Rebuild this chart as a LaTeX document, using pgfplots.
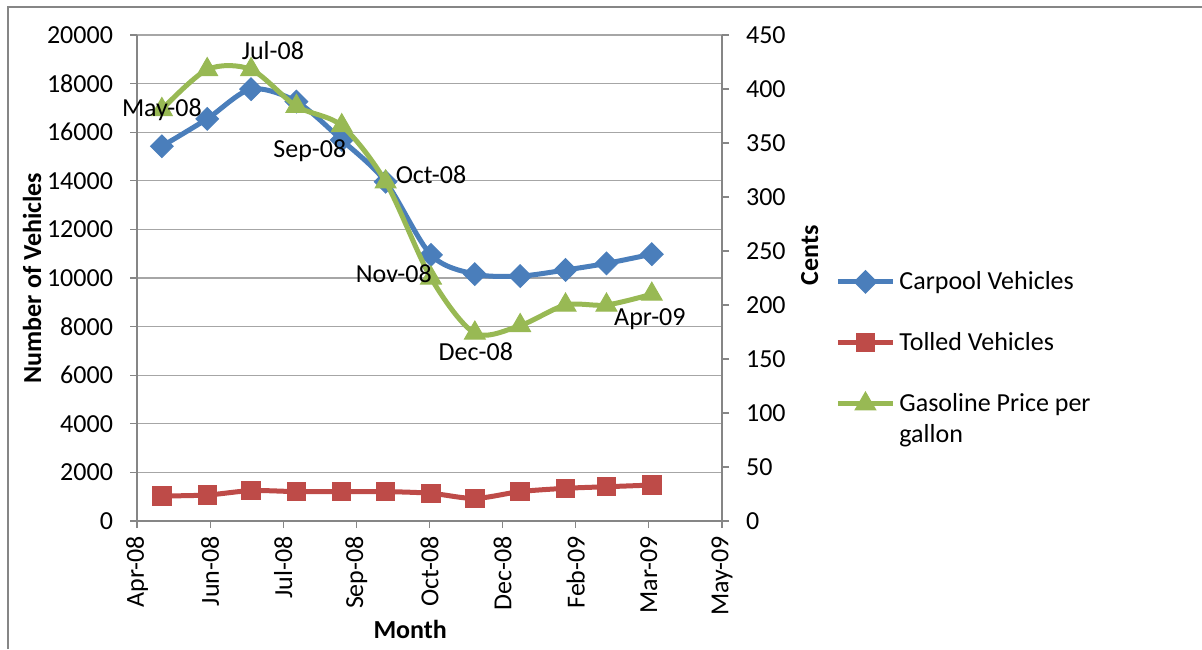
\documentclass[border=0pt]{standalone}
\usepackage{fontspec}
\setmainfont{Carlito}
\usepackage{pgfplots}
\usepackage{pgfplotstable}
\pgfplotsset{compat=1.18}
\definecolor{cblue}{HTML}{4A7EBB}
\definecolor{cred}{HTML}{BE4B48}
\definecolor{cgreen}{HTML}{98B954}
\definecolor{gridc}{HTML}{A6A6A6}
\definecolor{axc}{HTML}{868686}
\newcommand\fs{\fontsize{13}{15.6}\selectfont}

\pgfplotstableread{
d carpool tolled gas
0 15420 1030 381
31 16550 1070 418
61 17770 1250 418
92 17260 1210 384
123 15680 1210 366
153 13960 1210 314
184 10950 1140 225
214 10160 930 174
245 10080 1210 181
276 10330 1345 200
304 10600 1410 200
335 10980 1480 210
}\datatable

\pgfplotsset{
  common/.style={
    at={(68.5pt,64pt)}, anchor=south west,
    width=292.5pt, height=243pt, scale only axis,
    xmin=-17, xmax=383,
    tick align=outside, major tick length=3.5pt,
    tick style={axc, line width=0.6pt},
    axis line style={axc, line width=0.6pt, -},
    /pgf/number format/assume math mode=true,
    /pgf/number format/1000 sep={},
    scaled y ticks=false,
    ticklabel style={font=\fs, black},
    label style={font=\fs\bfseries, black},
    yticklabel shift=5pt,
  },
  legend image code/.code={\draw[mark repeat=2,mark phase=2] plot coordinates {(0pt,0pt)(13.75pt,0pt)(27.5pt,0pt)};},
}

\begin{document}
\begin{tikzpicture}
\path[use as bounding box] (0,0) rectangle (601pt,324.5pt);
\draw[axc, line width=0.8pt] (4pt,0pt) -- (4pt,321pt) -- (601pt,321pt);

\begin{axis}[common,
  ymin=0, ymax=20000, ytick={0,2000,...,20000},
  axis y line*=left, axis x line*=bottom,
  ymajorgrids, grid style={gridc, line width=0.6pt},
  xtick={-17,33,...,383},
  xticklabels={Apr-08,Jun-08,Jul-08,Sep-08,Oct-08,Dec-08,Feb-09,Mar-09,May-09},
  xticklabel style={rotate=90, anchor=east},
  xticklabel shift=0.5pt,
  xlabel={Month},
  xlabel style={at={(axis description cs:0.467,-0.224)}, anchor=center},
  ylabel={Number of Vehicles},
  ylabel style={at={(axis description cs:-0.1795,0.5)}, anchor=center},
]
\addplot[cblue, line width=2.5pt, smooth, mark=square*, mark size=4pt,
  mark options={rotate=45, solid, fill=cblue, line width=0.5pt}]
  table[x=d, y=carpool]{\datatable};
\addplot[cred, line width=2.5pt, smooth, mark=square*, mark size=4.6pt,
  mark options={solid, fill=cred, line width=0.5pt}]
  table[x=d, y=tolled]{\datatable};
\end{axis}

\begin{axis}[common,
  ymin=0, ymax=450, ytick={0,50,...,450},
  axis y line*=right, axis x line=none,
  ylabel={Cents},
  ylabel style={at={(axis description cs:1.150,0.547)}, anchor=center},
  legend style={at={(axis description cs:1.183,0.531)}, anchor=north west,
    draw=none, fill=none, font=\fs, row sep=16pt,
    cells={anchor=west, align=left}},
]
\addlegendimage{cblue, line width=2.5pt, mark=square*, mark size=3pt, mark options={rotate=45, solid, fill=cblue}}
\addlegendentry{Carpool Vehicles}
\addlegendimage{cred, line width=2.5pt, mark=square*, mark size=3.5pt, mark options={solid, fill=cred}}
\addlegendentry{Tolled Vehicles}
\addplot[cgreen, line width=2.5pt, smooth, mark=triangle*, mark size=6pt,
  mark options={solid, fill=cgreen, line width=0.5pt}]
  table[x=d, y=gas]{\datatable};
\addlegendentry{\raisebox{0pt}[\height][2.7pt]{\vtop{\hbox{Gasoline Price per}\hbox{gallon}}}}
\end{axis}

\begin{axis}[common, hide axis, clip=false, ymin=0, ymax=450]
\node[font=\fs] at (axis cs:0,380.5) {May-08};
\node[font=\fs] at (axis cs:75.9,436) {Jul-08};
\node[font=\fs] at (axis cs:101.2,342.6) {Sep-08};
\node[font=\fs] at (axis cs:184,320.4) {Oct-08};
\node[font=\fs] at (axis cs:158.6,228.7) {Nov-08};
\node[font=\fs] at (axis cs:214.7,156.5) {Dec-08};
\node[font=\fs] at (axis cs:333.7,187) {Apr-09};
\end{axis}
\end{tikzpicture}
\end{document}
